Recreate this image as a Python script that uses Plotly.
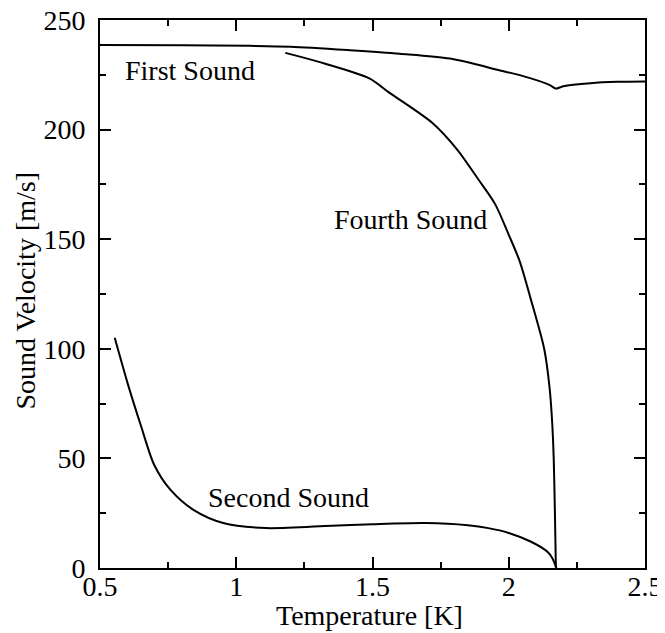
import plotly.graph_objects as go

# First sound
t1 = [0.5, 0.8, 1.05, 1.2, 1.417, 1.6, 1.784, 1.968, 2.05, 2.151, 2.172, 2.2, 2.3, 2.4, 2.5]
v1 = [238.6, 238.5, 238.2, 237.8, 236.2, 234.6, 232.4, 227.0, 224.5, 220.3, 218.7, 219.8, 221.2, 221.8, 222.0]

# Fourth sound
t4 = [1.18, 1.3, 1.49, 1.56, 1.72, 1.81, 1.89, 1.95, 2.0, 2.04, 2.08, 2.13, 2.15, 2.16, 2.165, 2.169, 2.173]
v4 = [235.0, 231.0, 223.3, 217.0, 203.0, 191.0, 177.0, 166.0, 152.0, 140.0, 123.0, 100.0, 82.0, 65.0, 50.0, 28.0, 0.0]

# Second sound
t2 = [0.554, 0.602, 0.65, 0.699, 0.759, 0.843, 0.952, 1.108, 1.35, 1.5, 1.695, 1.85, 1.925, 2.0, 2.08, 2.14, 2.16, 2.175]
v2 = [105.0, 84.0, 65.0, 47.0, 35.6, 26.5, 20.5, 18.2, 19.3, 20.0, 20.5, 19.5, 18.2, 16.0, 12.1, 7.6, 4.5, 0.0]

labels = ["First Sound", "Fourth Sound", "Second Sound"]
label_t = [0.83, 1.64, 1.19]
label_v = [227, 159, 32]

x_title = "Temperature [K]"
y_title = "Sound Velocity [m/s]"

FONT = "Liberation Serif"
FS = 28

fig = go.Figure()
for t, v in [(t1, v1), (t4, v4), (t2, v2)]:
    fig.add_trace(go.Scatter(x=t, y=v, mode="lines", line=dict(color="black", width=2, shape="spline", smoothing=0.8),
                             showlegend=False, hoverinfo="skip", cliponaxis=True))

for txt, x, y in zip(labels, label_t, label_v):
    fig.add_annotation(x=x, y=y, text=txt, showarrow=False, font=dict(family=FONT, size=FS, color="black"))

# axis titles
fig.add_annotation(xref="paper", yref="paper", x=0.4936, y=-0.0874, yanchor="middle", xanchor="center",
                   text=x_title, showarrow=False, font=dict(family=FONT, size=FS, color="black"))
fig.add_annotation(xref="paper", yref="paper", x=-0.1376, y=0.5046, yanchor="middle", xanchor="center",
                   text=y_title, textangle=-90, showarrow=False, font=dict(family=FONT, size=FS, color="black"))

axis_common = dict(
    showgrid=False, zeroline=False, showline=True, linecolor="black", linewidth=2,
    mirror="allticks", ticks="inside", ticklen=11, tickwidth=2, tickcolor="black",
    tickfont=dict(family=FONT, size=FS, color="black"), automargin=False,
    ticklabeloverflow="allow",
)

fig.update_xaxes(range=[0.5, 2.5], dtick=0.5, tick0=0.5, ticklabelstandoff=-8,
                 minor=dict(ticks="inside", ticklen=6, dtick=0.25, tickwidth=2, tickcolor="black"),
                 **axis_common)
fig.update_yaxes(range=[0, 250], dtick=50, tick0=0, ticksuffix="\u00a0",
                 minor=dict(ticks="inside", ticklen=6, dtick=25, tickwidth=2, tickcolor="black"),
                 **axis_common)

# page body adds an 8px offset; compensate so the plot sits where the reference has it
fig.update_layout(width=657, height=625, margin=dict(l=92, r=20, t=12, b=65),
                  plot_bgcolor="white", paper_bgcolor="white")

fig.write_html("out.html")
